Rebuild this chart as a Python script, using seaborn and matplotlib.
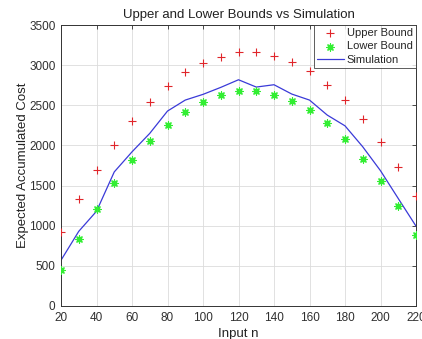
import numpy as np
import pandas as pd
import matplotlib
matplotlib.use("Agg")
import matplotlib.pyplot as plt
import seaborn as sns

n_values = [20, 30, 40, 50, 60, 70, 80, 90, 100, 110, 120, 130, 140, 150, 160,
            170, 180, 190, 200, 210, 220]
upper_bound = [925, 1327, 1692, 2008, 2303, 2544, 2743, 2910, 3026, 3101, 3160,
               3160, 3113, 3035, 2923, 2756, 2565, 2328, 2041, 1733, 1368]
lower_bound = [445, 840, 1214, 1526, 1813, 2057, 2257, 2419, 2544, 2623, 2673,
               2681, 2631, 2552, 2440, 2274, 2082, 1833, 1559, 1243, 882]
simulation = [570, 930, 1180, 1670, 1920, 2150, 2428, 2565, 2636, 2723, 2818,
              2727, 2756, 2640, 2565, 2378, 2244, 1983, 1685, 1339, 995]

df = pd.DataFrame({"n": n_values, "upper": upper_bound,
                   "lower": lower_bound, "sim": simulation})

sns.set_style("whitegrid")
plt.rcParams["font.family"] = ["Liberation Sans", "DejaVu Sans"]

fig = plt.figure(figsize=(4.22, 3.39), dpi=100)
ax = fig.add_axes([61 / 422, 1 - 306 / 339, 355 / 422, 281 / 339])

sns.scatterplot(data=df, x="n", y="upper", marker="+", s=40, color="#e0262b",
                linewidth=0.8, ax=ax, label="Upper Bound", zorder=3)
sns.scatterplot(data=df, x="n", y="lower", marker=(8, 2, 0), s=26,
                color="#33ee33", edgecolor="#33ee33", linewidth=0.9, ax=ax,
                label="Lower Bound", zorder=3)
sns.lineplot(data=df, x="n", y="sim", color="#3a3ad8", linewidth=0.9, ax=ax,
             label="Simulation", zorder=2)

ax.set_xlim(20, 220)
ax.set_ylim(0, 3500)
ax.set_xticks(range(20, 221, 20))
ax.set_yticks(range(0, 3501, 500))
ax.tick_params(axis="both", labelsize=8.5, colors="#303030", direction="in",
               length=3, width=0.6, top=True, right=True, pad=4)
for side in ax.spines.values():
    side.set_color("#333333")
    side.set_linewidth(0.7)
ax.grid(True, color="#dcdcdc", linewidth=0.6)

ax.set_title("Upper and Lower Bounds vs Simulation", fontsize=9.5, pad=5,
             color="#222222")
ax.set_xlabel("Input n", fontsize=9.5, labelpad=3, color="#222222")
ax.set_ylabel("Expected Accumulated Cost", fontsize=9.5, color="#222222")
ax.yaxis.set_label_coords(-0.09, 0.5)

leg = ax.legend(loc="upper right", fontsize=8, frameon=True, fancybox=False,
                borderaxespad=0, handlelength=2.4, borderpad=0.28,
                labelspacing=0.3, handletextpad=0.3)
leg.get_frame().set_edgecolor("#333333")
leg.get_frame().set_linewidth(0.7)

fig.savefig("out.png", dpi=100)
